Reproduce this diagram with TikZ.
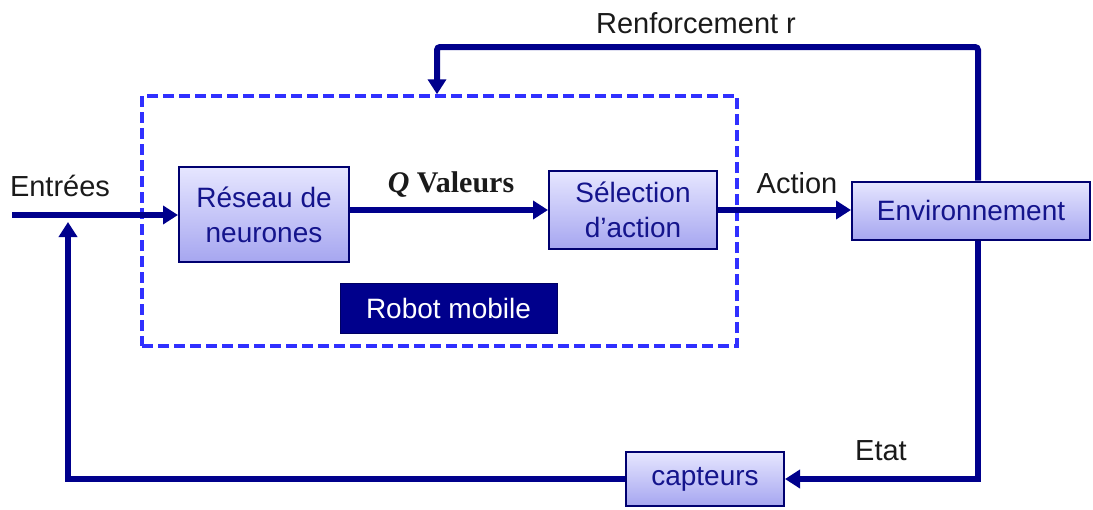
\documentclass[tikz,border=0pt]{standalone}
\usepackage{fontspec}
\setmainfont{Liberation Sans}
\newfontfamily\qserif{Liberation Serif}
\usetikzlibrary{arrows.meta}
\definecolor{navy}{HTML}{00008C}
\definecolor{boxtxt}{HTML}{14148C}
\definecolor{boxtop}{HTML}{E6E6FF}
\definecolor{boxbot}{HTML}{A6A6F0}
\definecolor{dashc}{HTML}{3030FF}
\definecolor{lbl}{HTML}{1A1A1A}
\tikzset{
  blockbox/.style={draw=navy!80!black, line width=2pt, top color=boxtop, bottom color=boxbot,
    text=boxtxt, align=center, inner sep=0pt, font=\fontsize{28}{35}\selectfont},
  zonebox/.style={draw=dashc, line width=3.5pt, dash pattern=on 11pt off 5pt, inner sep=0pt},
  darkbox/.style={draw=navy!70!black, fill=navy, text=white, inner sep=0pt, font=\fontsize{28}{32}\selectfont},
  arr/.style={draw=navy, line width=6pt, -{Triangle[length=15pt,width=18pt]}},
  lab/.style={text=lbl, font=\fontsize{29}{32}\selectfont, inner sep=0pt}
}
\begin{document}
\begin{tikzpicture}[x=1pt,y=-1pt]
\useasboundingbox (0,0) rectangle (1093,509);
% dashed zone
\node[zonebox, minimum width=595pt, minimum height=250pt] (zone) at (439.5,221) {};
% blocks
\node[blockbox, minimum width=170pt, minimum height=95pt] (rn) at (264,214.5) {Réseau de\\neurones};
\node[blockbox, minimum width=168pt, minimum height=78pt] (sel) at (633,210) {Sélection\\d’action};
\node[blockbox, minimum width=238pt, minimum height=58pt] (env) at (971,210.5) {Environnement};
\node[blockbox, minimum width=158pt, minimum height=54pt] (cap) at (705,479) {capteurs};
\node[darkbox, minimum width=217pt, minimum height=50pt] (robot) at (448.5,308) {Robot mobile};
% coordinates
\coordinate (in) at (12,215);
\coordinate (r1) at (978,47);
\coordinate (r2) at (437,47);
\coordinate (e1) at (978,479);
\coordinate (b1) at (68,479);
\coordinate (b2) at (68,222);
% connectors
\draw[arr] (in) -- (in -| rn.west);
\draw[arr] (sel.west -| rn.east) -- (sel.west);
\draw[arr] (sel.east) -- (sel.east -| env.west);
\draw[arr, rounded corners=3pt] (r1 |- env.north) -- (r1) -- (r2) -- (r2 |- zone.north);
\draw[arr] (e1 |- env.south) -- (e1) -- (cap.east);
\draw[arr] (cap.west) -- (b1) -- (b2);
% labels
\node[lab] (lren) at (696,23) {Renforcement r};
\node[lab] (lent) at (60,186) {Entrées};
\node[lab] (lact) at (797,183) {Action};
\node[lab] (leta) at (881,451) {Etat};
\node[lab, font=\fontsize{30}{34}\qserif\bfseries] (lq) at (451,185) {\textit{Q} Valeurs};
\end{tikzpicture}
\end{document}
